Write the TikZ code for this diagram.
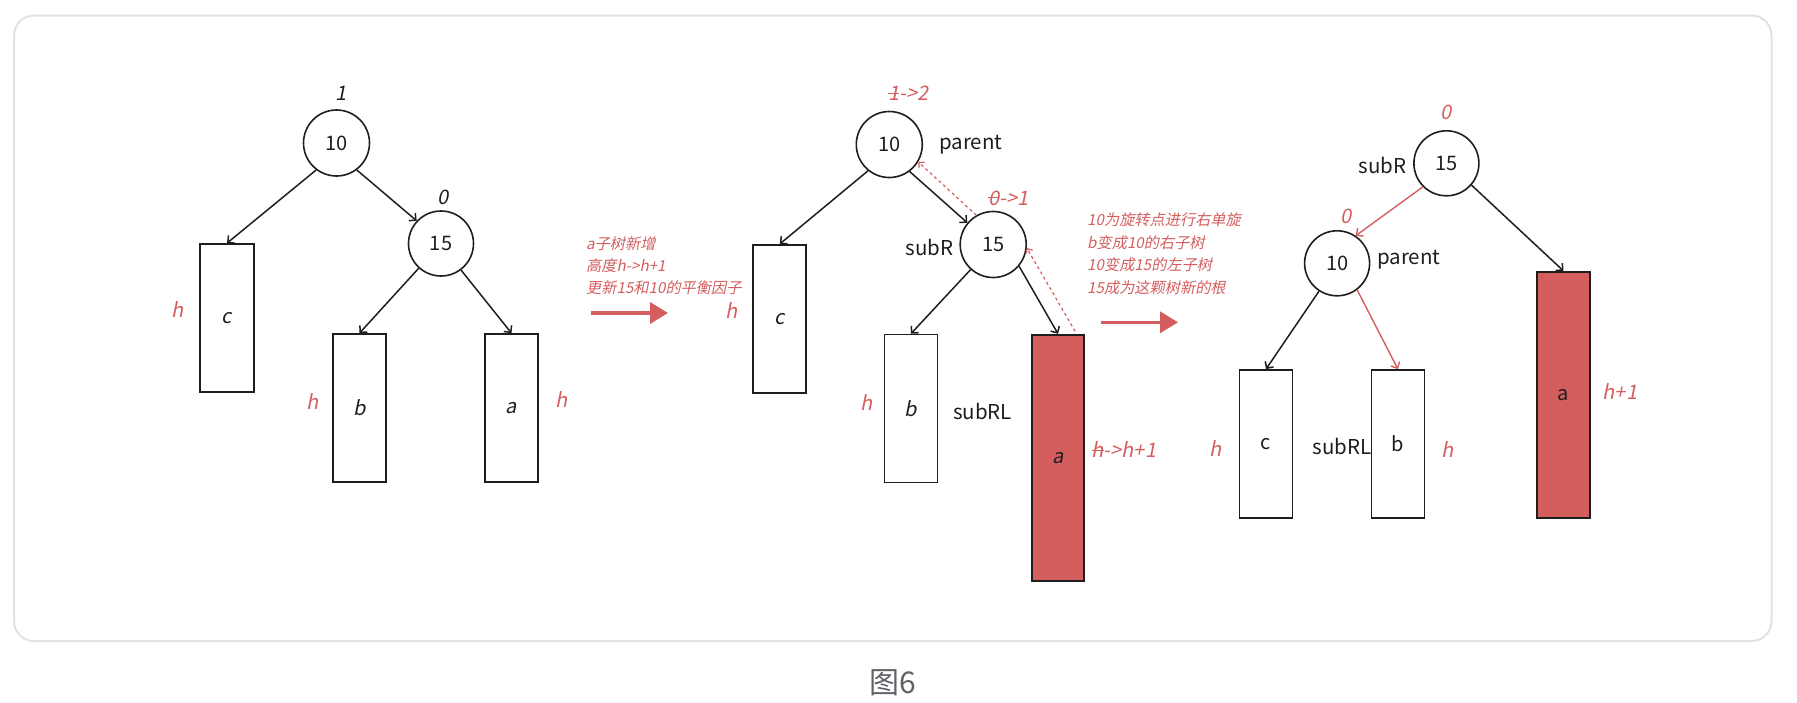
\documentclass[tikz,border=0pt]{standalone}
\usepackage{fontspec}
\usetikzlibrary{arrows.meta,calc}
\newfontfamily\cjk{Noto Sans CJK SC}
\newfontfamily\cjkit[FakeSlant=0.2]{Noto Sans CJK SC}
\definecolor{myred}{RGB}{212,94,94}
\definecolor{framegray}{RGB}{226,226,230}
\definecolor{capgray}{RGB}{95,99,104}
\definecolor{ink}{RGB}{30,30,30}
\newcommand\xstk[1]{\sbox0{#1}\rlap{\usebox0}\rule[0.33em]{\wd0}{0.07em}}
\tikzset{
  tnode/.style={circle,draw=ink,line width=1.6pt,inner sep=0pt,font=\cjk\fontsize{20}{24}\selectfont,text=ink},
  subtree/.style={rectangle,draw=ink,line width=1.7pt,inner sep=0pt,font=\cjkit\fontsize{20}{24}\selectfont,text=ink},
  subtreeup/.style={subtree,font=\cjk\fontsize{20}{24}\selectfont},
  redtree/.style={subtree,fill=myred},
  redtreeup/.style={subtreeup,fill=myred},
  lbl/.style={inner sep=0pt,font=\cjk\fontsize{20.5}{24}\selectfont,text=ink},
  ilbl/.style={inner sep=0pt,font=\cjkit\fontsize{20}{24}\selectfont,text=ink},
  rlbl/.style={inner sep=0pt,font=\cjkit\fontsize{20}{24}\selectfont,text=myred},
  note/.style={inner sep=0pt,align=left,text=myred},
  edge/.style={draw=ink,line width=1.5pt,-{Straight Barb[length=5pt,width=10pt]}},
  redge/.style={draw=myred,line width=1.4pt,-{Straight Barb[length=5pt,width=10pt]}},
  dedge/.style={draw=myred,line width=1.2pt,dash pattern=on 3pt off 3pt,-{Straight Barb[length=4pt,width=8pt]}},
  bigarrow/.style={draw=myred,line width=3.6pt,-{Triangle[length=18pt,width=21pt]}},
}
\begin{document}
\begin{tikzpicture}[x=1pt,y=-1pt]
\useasboundingbox (0,0) rectangle (1797,702);
\draw[framegray,line width=2pt,rounded corners=20pt] (14,15.5) rectangle (1771.5,641);
\node[inner sep=0pt,font=\cjk\fontsize{30}{36}\selectfont,text=capgray] (cap) at (893,683) {图6};

% ---------- tree 1 ----------
\node[tnode,minimum size=66pt] (t1n10) at (336.5,143) {10};
\node[tnode,minimum size=65pt] (t1n15) at (441,243.5) {15};
\node[subtree,minimum width=54pt,minimum height=148pt] (t1c) at (227,318) {c};
\node[subtree,minimum width=53pt,minimum height=148pt] (t1b) at (359.5,408) {b};
\node[subtree,minimum width=53pt,minimum height=148pt] (t1a) at (511.5,408) {a};
\node[ilbl] (t1bf10) at (341.5,93) {1};
\node[ilbl] (t1bf15) at (443,197) {0};
\node[rlbl] (t1hc) at (178,310) {h};
\node[rlbl] (t1hb) at (313,402) {h};
\node[rlbl] (t1ha) at (562,400) {h};
\draw[edge] (t1n10.233) -- (t1c.north);
\draw[edge] (t1n10.307) -- (t1n15.137);
\draw[edge] (t1n15.228) -- (t1b.north);
\draw[edge] (t1n15.307) -- (t1a.north);

% ---------- arrow 1 ----------
\node[note,anchor=west,font=\cjkit\fontsize{15.2}{21.6}\selectfont] (note1) at (586,265.7) {a子树新增\\高度h->h+1\\更新15和10的平衡因子};
\coordinate (ar1s) at (591,313);
\coordinate (ar1e) at (668,313);
\draw[bigarrow] (ar1s) -- (ar1e);

% ---------- tree 2 ----------
\node[tnode,minimum size=66pt] (t2n10) at (889.3,144.5) {10};
\node[tnode,minimum size=66pt] (t2n15) at (993.2,244.5) {15};
\node[subtree,minimum width=53pt,minimum height=148pt] (t2c) at (779.8,318.8) {c};
\node[subtree,minimum width=53pt,minimum height=148pt] (t2b) at (910.9,408.6) {b};
\node[redtree,minimum width=52.5pt,minimum height=246pt] (t2a) at (1058,457.7) {a};
\node[rlbl] (t2bf10) at (908.2,93.4) {\xstk{1}->2};
\node[rlbl] (t2bf15) at (1008.2,197.9) {\xstk{0}->1};
\node[lbl] (t2par) at (970.7,144.5) {parent};
\node[lbl] (t2subr) at (929.6,247.9) {subR};
\node[lbl] (t2subrl) at (982.5,411) {subRL};
\node[rlbl] (t2hc) at (731.4,311) {h};
\node[rlbl] (t2hb) at (866.4,403) {h};
\node[rlbl,anchor=west] (t2ha) at (1091.4,450) {\xstk{h}->h+1};
\draw[edge] (t2n10.231) -- (t2c.north);
\draw[edge] (t2n10.307) -- (t2n15.140);
\draw[edge] (t2n15.228) -- (t2b.north);
\draw[edge] (t2n15.320) -- (t2a.north);
\coordinate (t2dstart) at ($(t2a.north east)+(-10,-2.5)$);
\draw[dedge] (t2n15.120) -- (t2n10.329);
\draw[dedge] (t2dstart) -- (t2n15.354);

% ---------- arrow 2 ----------
\node[note,anchor=west,font=\cjkit\fontsize{15.2}{22.6}\selectfont] (note2) at (1087,253.6) {10为旋转点进行右单旋\\b变成10的右子树\\10变成15的左子树\\15成为这颗树新的根};
\coordinate (ar2s) at (1101,322.3);
\coordinate (ar2e) at (1178,322.3);
\draw[bigarrow] (ar2s) -- (ar2e);

% ---------- tree 3 ----------
\node[tnode,minimum size=65pt] (t3n15) at (1446.4,163.3) {15};
\node[tnode,minimum size=65pt] (t3n10) at (1337.1,263.3) {10};
\node[subtreeup,minimum width=53pt,minimum height=147.7pt] (t3c) at (1266,443.8) {c};
\node[subtreeup,minimum width=53pt,minimum height=147.7pt] (t3b) at (1397.9,443.8) {b};
\node[redtreeup,minimum width=53.2pt,minimum height=246pt] (t3a) at (1563.4,394.7) {a};
\node[rlbl] (t3bf15) at (1445.7,112.7) {0};
\node[rlbl] (t3bf10) at (1345.7,216.7) {0};
\node[lbl] (t3subr) at (1382.5,165) {subR};
\node[lbl] (t3par) at (1408.9,260) {parent};
\node[lbl] (t3subrl) at (1342.1,446.7) {subRL};
\node[rlbl] (t3hc) at (1216,448.3) {h};
\node[rlbl] (t3hb) at (1447.5,449.3) {h};
\node[rlbl] (t3ha) at (1620,392) {h+1};
\draw[redge] (t3n15.225) -- (t3n10.56);
\draw[edge] (t3n15.319) -- (t3a.north);
\draw[edge] (t3n10.237) -- (t3c.north);
\draw[redge] (t3n10.307) -- (t3b.north);
\end{tikzpicture}
\end{document}
